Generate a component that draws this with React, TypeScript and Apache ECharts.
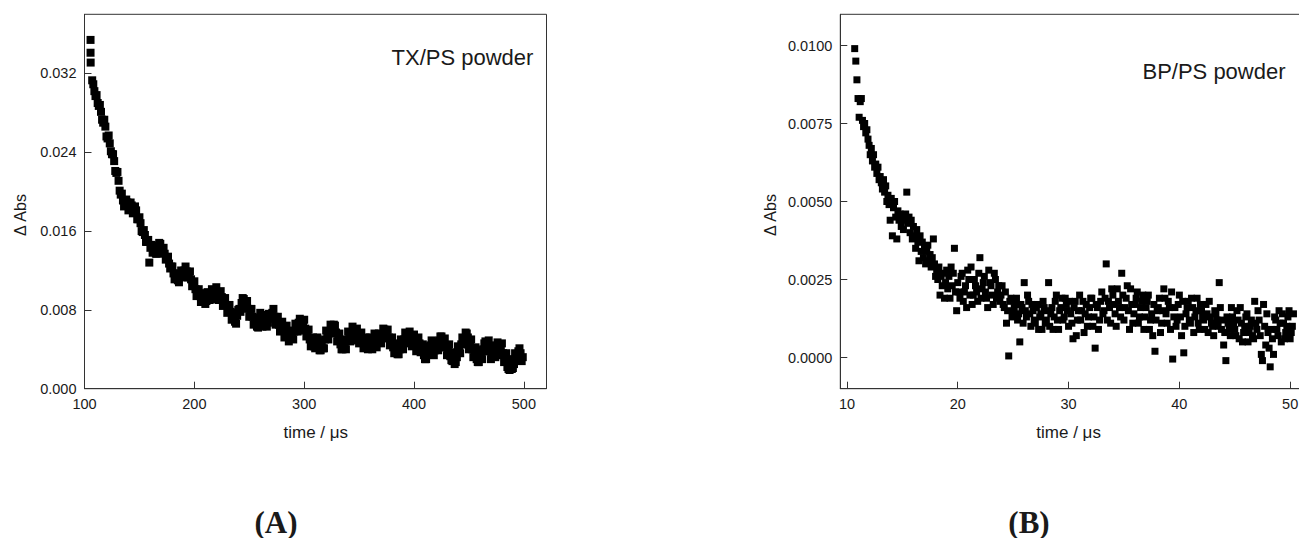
import React, { useEffect, useRef } from "react";
import * as echarts from "echarts";

// TX/PS powder: [time / µs, ΔAbs]
const txPoints: [number, number][] = [
  [105.5, 0.0354], [105.5, 0.0341], [105.6, 0.0331],
  [107, 0.0313], [108, 0.0309], [109, 0.0302], [110, 0.0297], [111, 0.0298], [113, 0.0287], [115, 0.0281],
  [117, 0.027], [119, 0.0266], [121, 0.0254], [123, 0.0249], [125, 0.0238], [127, 0.0231], [129, 0.0219],
  [131, 0.0211], [133, 0.0197], [135, 0.0191], [137, 0.0186], [139, 0.0189], [141, 0.0183], [143, 0.0186],
  [145, 0.0179], [147, 0.0181], [149, 0.0172], [151, 0.0168], [153, 0.0159], [155, 0.0156], [157, 0.0149],
  [159, 0.0128], [161, 0.0146], [163, 0.014], [165, 0.0137], [167, 0.0144], [169, 0.0147], [171, 0.0139],
  [173, 0.0137], [175, 0.0133], [177, 0.0127], [179, 0.0124], [181, 0.0117], [183, 0.0113], [185, 0.011],
  [187, 0.0114], [189, 0.0116], [191, 0.012], [193, 0.0119], [195, 0.0116], [197, 0.0111], [199, 0.0107],
  [201, 0.0101], [203, 0.0097], [205, 0.0094], [207, 0.0092], [209, 0.0091], [211, 0.0089], [213, 0.0095],
  [215, 0.0097], [217, 0.0094], [219, 0.01], [221, 0.0098], [223, 0.0095], [225, 0.0093], [227, 0.0087],
  [229, 0.0085], [231, 0.008], [233, 0.0078], [235, 0.0073], [237, 0.0068], [239, 0.0074], [241, 0.0081],
  [243, 0.0087], [245, 0.0091], [247, 0.0085], [249, 0.0081], [251, 0.0076], [253, 0.0073], [255, 0.0066],
  [257, 0.0063], [259, 0.007], [261, 0.0072], [263, 0.0065], [265, 0.0071], [267, 0.0067], [269, 0.0074],
  [271, 0.0077], [273, 0.0073], [275, 0.0068], [277, 0.0065], [279, 0.0062], [281, 0.0059], [283, 0.0057],
  [285, 0.0055], [287, 0.0052], [289, 0.0051], [291, 0.0058], [293, 0.0063], [295, 0.0067], [297, 0.0064],
  [299, 0.0068], [301, 0.0061], [303, 0.0057], [305, 0.005], [307, 0.0045], [309, 0.0043], [311, 0.0047],
  [313, 0.0042], [315, 0.0039], [317, 0.0041], [319, 0.005], [321, 0.0055], [323, 0.0058], [325, 0.0062],
  [327, 0.0065], [329, 0.0057], [331, 0.0052], [333, 0.0045], [335, 0.004], [337, 0.0043], [339, 0.0049],
  [341, 0.0055], [343, 0.0057], [345, 0.0059], [347, 0.0054], [349, 0.0056], [351, 0.0052], [353, 0.0048],
  [355, 0.0046], [357, 0.0043], [359, 0.0042], [361, 0.0045], [363, 0.0048], [365, 0.005], [367, 0.0047],
  [369, 0.0052], [371, 0.0055], [373, 0.006], [375, 0.0058], [377, 0.0052], [379, 0.0047], [381, 0.0042],
  [383, 0.0038], [385, 0.0035], [387, 0.004], [389, 0.0045], [391, 0.005], [393, 0.0053], [395, 0.0055],
  [397, 0.0054], [399, 0.005], [401, 0.0047], [403, 0.0043], [405, 0.0046], [407, 0.004], [409, 0.0034],
  [411, 0.003], [413, 0.0037], [415, 0.0044], [417, 0.0042], [419, 0.0039], [421, 0.0045], [423, 0.0049],
  [425, 0.0053], [427, 0.0047], [429, 0.0042], [431, 0.0038], [433, 0.0033], [435, 0.0028], [437, 0.0025],
  [439, 0.0032], [441, 0.004], [443, 0.0045], [445, 0.005], [447, 0.0057], [449, 0.0052], [451, 0.0045],
  [453, 0.004], [455, 0.0036], [457, 0.003], [459, 0.0027], [461, 0.0033], [463, 0.004], [465, 0.0048],
  [467, 0.0044], [469, 0.0038], [471, 0.0034], [473, 0.0037], [475, 0.004], [477, 0.0043], [479, 0.0041],
  [481, 0.0036], [483, 0.003], [485, 0.0022], [487, 0.0019], [489, 0.002], [491, 0.0025], [493, 0.0033],
  [495, 0.0038], [497, 0.0036], [499, 0.0032],
];

// TX/PS powder, interleaved samples: [time / µs, ΔAbs]
const txPointsEven: [number, number][] = [
  [112, 0.029], [114, 0.0288], [116, 0.0273], [118, 0.0273], [120, 0.0256], [122, 0.0257], [124, 0.0241],
  [126, 0.0238], [128, 0.0221], [130, 0.022], [132, 0.0201], [134, 0.0198], [136, 0.0185], [138, 0.0192],
  [140, 0.0181], [142, 0.0189], [144, 0.0178], [146, 0.0185], [148, 0.0172], [150, 0.0174], [152, 0.016],
  [154, 0.0161], [156, 0.0149], [158, 0.0151], [160, 0.0143], [162, 0.0138], [164, 0.0145], [166, 0.0137],
  [168, 0.0148], [170, 0.0138], [172, 0.0143], [174, 0.0131], [176, 0.0134], [178, 0.0122], [180, 0.0124],
  [182, 0.0111], [184, 0.0117], [186, 0.0108], [188, 0.012], [190, 0.0113], [192, 0.0124], [194, 0.0113],
  [196, 0.0119], [198, 0.0104], [200, 0.0109], [202, 0.0094], [204, 0.0101], [206, 0.0088], [208, 0.0097],
  [210, 0.0086], [212, 0.0098], [214, 0.009], [216, 0.0101], [218, 0.0091], [220, 0.0103], [222, 0.009],
  [224, 0.0099], [226, 0.0084], [228, 0.0092], [230, 0.0077], [232, 0.0085], [234, 0.007], [236, 0.0077],
  [238, 0.0066], [240, 0.008], [242, 0.0078], [244, 0.0092], [246, 0.0082], [248, 0.0089], [250, 0.0073],
  [252, 0.0081], [254, 0.0065], [256, 0.0072], [258, 0.0062], [260, 0.0077], [262, 0.0063], [264, 0.0075],
  [266, 0.0063], [268, 0.0076], [270, 0.0071], [272, 0.0081], [274, 0.0065], [276, 0.0073], [278, 0.0058],
  [280, 0.0068], [282, 0.0052], [284, 0.0064], [286, 0.0048], [288, 0.0059], [290, 0.005], [292, 0.0066],
  [294, 0.0058], [296, 0.0071], [298, 0.0059], [300, 0.007], [302, 0.0053], [304, 0.006], [306, 0.0043],
  [308, 0.0052], [310, 0.0041], [312, 0.0052], [314, 0.0039], [316, 0.0048], [318, 0.0041], [320, 0.0059],
  [322, 0.005], [324, 0.0065], [326, 0.0056], [328, 0.0064], [330, 0.0048], [332, 0.0056], [334, 0.004],
  [336, 0.005], [338, 0.004], [340, 0.0058], [342, 0.0048], [344, 0.0063], [346, 0.0049], [348, 0.0061],
  [350, 0.0046], [352, 0.0057], [354, 0.0041], [356, 0.0052], [358, 0.004], [360, 0.0052], [362, 0.004],
  [364, 0.0056], [366, 0.0042], [368, 0.0056], [370, 0.0046], [372, 0.0061], [374, 0.0051], [376, 0.006],
  [378, 0.0044], [380, 0.0052], [382, 0.0036], [384, 0.0046], [386, 0.0035], [388, 0.005], [390, 0.004],
  [392, 0.0057], [394, 0.0046], [396, 0.0058], [398, 0.0043], [400, 0.0055], [402, 0.0038], [404, 0.0052],
  [406, 0.0037], [408, 0.0045], [410, 0.003], [412, 0.0043], [414, 0.0035], [416, 0.0049], [418, 0.0034],
  [420, 0.0048], [422, 0.0039], [424, 0.0053], [426, 0.0042], [428, 0.0051], [430, 0.0034], [432, 0.0045],
  [434, 0.0029], [436, 0.0037], [438, 0.0027], [440, 0.0043], [442, 0.0036], [444, 0.0052], [446, 0.0045],
  [448, 0.0056], [450, 0.004], [452, 0.005], [454, 0.0032], [456, 0.0042], [458, 0.0027], [460, 0.0039],
  [462, 0.003], [464, 0.0046], [466, 0.0038], [468, 0.0049], [470, 0.003], [472, 0.0044], [474, 0.0032],
  [476, 0.0047], [478, 0.0034], [480, 0.0046], [482, 0.0027], [484, 0.0036], [486, 0.002], [488, 0.003],
  [490, 0.0021], [492, 0.0036], [494, 0.003], [496, 0.0041], [498, 0.0028],
];

// BP/PS powder: [time / µs, ΔAbs]
const bpPoints: [number, number][] = [
  [10.7, 0.0099], [10.8, 0.0095], [10.9, 0.0089], [11.0, 0.0083], [11.1, 0.0077], [11.2, 0.0082],
  [11.3, 0.0083], [11.4, 0.0076], [11.5, 0.0074], [11.6, 0.0075], [11.7, 0.0072], [11.8, 0.0073],
  [11.9, 0.007], [12.0, 0.0068], [12.1, 0.0065], [12.2, 0.0067], [12.3, 0.0063], [12.4, 0.0065],
  [12.5, 0.0061], [12.6, 0.0062], [12.7, 0.0059], [12.8, 0.0061], [12.9, 0.0057], [13.0, 0.0058],
  [13.1, 0.0056], [13.2, 0.0054], [13.3, 0.0057], [13.4, 0.0053], [13.5, 0.0055], [13.6, 0.005],
  [13.7, 0.0052], [13.8, 0.0049], [13.9, 0.0044], [14.0, 0.0051], [14.1, 0.0039], [14.2, 0.0048],
  [14.3, 0.005], [14.4, 0.0045], [14.5, 0.0038], [14.6, 0.0047], [14.7, 0.0044], [14.8, 0.0046],
  [14.9, 0.0042], [15.0, 0.0045], [15.1, 0.0041], [15.2, 0.0044], [15.3, 0.0046], [15.4, 0.0053],
  [15.5, 0.0043], [15.6, 0.0045], [15.7, 0.004], [15.8, 0.0044], [15.9, 0.0038], [16.0, 0.0042],
  [16.1, 0.0039], [16.2, 0.0035], [16.3, 0.0041], [16.4, 0.0037], [16.5, 0.0031], [16.6, 0.0039],
  [16.7, 0.0034], [16.8, 0.0037], [16.9, 0.0032], [17.0, 0.0035], [17.1, 0.003], [17.2, 0.0034],
  [17.3, 0.0036], [17.4, 0.0031], [17.5, 0.0033], [17.6, 0.0029], [17.7, 0.0032], [17.8, 0.0038],
  [17.9, 0.003], [18.0, 0.0026], [18.1, 0.0028], [18.2, 0.0025], [18.3, 0.0029], [18.4, 0.002],
  [18.5, 0.0026], [18.6, 0.0023], [18.7, 0.0027], [18.8, 0.0019], [18.9, 0.0024], [19.0, 0.0028],
  [19.1, 0.0022], [19.2, 0.0026], [19.3, 0.0019], [19.4, 0.0029], [19.5, 0.0023], [19.6, 0.0027],
  [19.7, 0.0035], [19.8, 0.0021], [19.9, 0.0015],
  [20.0, 0.0024], [20.2, 0.0019], [20.4, 0.0027], [20.6, 0.0021], [20.8, 0.0016], [21.0, 0.0025],
  [21.2, 0.0029], [21.4, 0.002], [21.6, 0.0023], [21.8, 0.0018], [22.0, 0.0032], [22.2, 0.0022],
  [22.4, 0.0026], [22.6, 0.0019], [22.8, 0.0028], [23.0, 0.0023], [23.2, 0.0017], [23.4, 0.0025],
  [23.6, 0.0021], [23.8, 0.0018], [24.0, 0.0023], [24.2, 0.0016], [24.4, 0.0011], [24.6, 0.00005],
  [24.8, 0.0019], [25.0, 0.0014], [25.2, 0.0017], [25.4, 0.0012], [25.6, 0.0005], [25.8, 0.0016],
  [26.0, 0.0024], [26.2, 0.0013], [26.4, 0.0018], [26.6, 0.001], [26.8, 0.0015], [27.0, 0.0011],
  [27.2, 0.0017], [27.4, 0.0013], [27.6, 0.0009], [27.8, 0.0016], [28.0, 0.0012], [28.2, 0.0024],
  [28.4, 0.0014], [28.6, 0.0009], [28.8, 0.0018], [29.0, 0.0012], [29.2, 0.0015], [29.4, 0.0019],
  [29.6, 0.0013], [29.8, 0.0017], [30.0, 0.001], [30.2, 0.0014], [30.4, 0.0006], [30.6, 0.0018],
  [30.8, 0.0012], [31.0, 0.002], [31.2, 0.0015], [31.4, 0.0008], [31.6, 0.0017], [31.8, 0.0013],
  [32.0, 0.0019], [32.2, 0.001], [32.4, 0.0003], [32.6, 0.0016], [32.8, 0.0012], [33.0, 0.0021],
  [33.2, 0.0015], [33.4, 0.003], [33.6, 0.0018], [33.8, 0.0011], [34.0, 0.002], [34.2, 0.0014],
  [34.4, 0.0022], [34.6, 0.0016], [34.8, 0.0027], [35.0, 0.0012], [35.2, 0.0019], [35.4, 0.0015],
  [35.6, 0.0022], [35.8, 0.0011], [36.0, 0.0017], [36.2, 0.0021], [36.4, 0.0013], [36.6, 0.0018],
  [36.8, 0.0009], [37.0, 0.0016], [37.2, 0.002], [37.4, 0.0012], [37.6, 0.0007], [37.8, 0.0002],
  [38.0, 0.0015], [38.2, 0.0019], [38.4, 0.0011], [38.6, 0.0022], [38.8, 0.0014], [39.0, 0.0018],
  [39.2, 0.0009], [39.4, -0.00005], [39.6, 0.0016], [39.8, 0.0012], [40.0, 0.002], [40.2, 0.0007],
  [40.4, 0.00015], [40.6, 0.0014], [40.8, 0.0018], [41.0, 0.0011], [41.2, 0.0016], [41.4, 0.0013],
  [41.6, 0.0019], [41.8, 0.0009], [42.0, 0.0015], [42.2, 0.0012], [42.4, 0.0017], [42.6, 0.0008],
  [42.8, 0.0013], [43.0, 0.001], [43.2, 0.0015], [43.4, 0.0012], [43.6, 0.0024], [43.8, 0.0009],
  [44.0, 0.0004], [44.2, -0.0001], [44.4, 0.0011], [44.6, 0.0007], [44.8, 0.0013], [45.0, 0.0009],
  [45.2, 0.0015], [45.4, 0.0006], [45.6, 0.0011], [45.8, 0.0008], [46.0, 0.0013], [46.2, 0.0005],
  [46.4, 0.001], [46.6, 0.0007], [46.8, 0.0018], [47.0, 0.0009], [47.2, 0.0012], [47.4, 0.0001],
  [47.6, 0.0017], [47.8, 0.0004], [48.0, 0.0008], [48.2, -0.0003], [48.4, 0.0006], [48.6, 0.0013],
  [48.8, 0.0009], [49.0, 0.0015], [49.2, 0.0005], [49.4, 0.0011], [49.6, 0.0008], [49.8, 0.0013],
  [50.0, 0.0006], [50.2, 0.001], [50.3, 0.0014],
];

// BP/PS powder, interleaved samples: [time / µs, ΔAbs]
const bpPointsOdd: [number, number][] = [
  [20.1, 0.0021], [20.3, 0.0026], [20.5, 0.0018], [20.7, 0.0023], [20.9, 0.0028], [21.1, 0.002],
  [21.3, 0.0017], [21.5, 0.0025], [21.7, 0.0021], [21.9, 0.0027], [22.1, 0.0019], [22.3, 0.0024],
  [22.5, 0.0021], [22.7, 0.0016], [22.9, 0.0024], [23.1, 0.002], [23.3, 0.0027], [23.5, 0.0019],
  [23.7, 0.0023], [23.9, 0.002], [24.1, 0.0017], [24.3, 0.0021], [24.5, 0.0015], [24.7, 0.0018],
  [24.9, 0.0013], [25.1, 0.0016], [25.3, 0.0019], [25.5, 0.0014], [25.7, 0.0017], [25.9, 0.0011],
  [26.1, 0.0015], [26.3, 0.002], [26.5, 0.0014], [26.7, 0.0017], [26.9, 0.0012], [27.1, 0.0016],
  [27.3, 0.0009], [27.5, 0.0014], [27.7, 0.0018], [27.9, 0.0011], [28.1, 0.0015], [28.3, 0.001],
  [28.5, 0.0016], [28.7, 0.0013], [28.9, 0.002], [29.1, 0.0009], [29.3, 0.0016], [29.5, 0.0012],
  [29.7, 0.0019], [29.9, 0.0015], [30.1, 0.0018], [30.3, 0.0011], [30.5, 0.0016], [30.7, 0.0007],
  [30.9, 0.0015], [31.1, 0.0012], [31.3, 0.0018], [31.5, 0.0014], [31.7, 0.001], [31.9, 0.0016],
  [32.1, 0.0019], [32.3, 0.0013], [32.5, 0.0017], [32.7, 0.0009], [32.9, 0.0018], [33.1, 0.0014],
  [33.3, 0.0019], [33.5, 0.0012], [33.7, 0.0016], [33.9, 0.0022], [34.1, 0.0017], [34.3, 0.001],
  [34.5, 0.0018], [34.7, 0.0013], [34.9, 0.002], [35.1, 0.0016], [35.3, 0.0023], [35.5, 0.0009],
  [35.7, 0.0017], [35.9, 0.0014], [36.1, 0.0019], [36.3, 0.0011], [36.5, 0.0016], [36.7, 0.002],
  [36.9, 0.0013], [37.1, 0.0018], [37.3, 0.0009], [37.5, 0.0014], [37.7, 0.0017], [37.9, 0.0012],
  [38.1, 0.0016], [38.3, 0.0008], [38.5, 0.0015], [38.7, 0.0019], [38.9, 0.0011], [39.1, 0.0016],
  [39.3, 0.0021], [39.5, 0.0013], [39.7, 0.001], [39.9, 0.0017], [40.1, 0.0013], [40.3, 0.0018],
  [40.5, 0.001], [40.7, 0.0016], [40.9, 0.0012], [41.1, 0.0019], [41.3, 0.0008], [41.5, 0.0015],
  [41.7, 0.0011], [41.9, 0.0017], [42.1, 0.0013], [42.3, 0.0009], [42.5, 0.0014], [42.7, 0.0018],
  [42.9, 0.0011], [43.1, 0.0007], [43.3, 0.0014], [43.5, 0.001], [43.7, 0.0016], [43.9, 0.0012],
  [44.1, 0.0008], [44.3, 0.0013], [44.5, 0.0009], [44.7, 0.0016], [44.9, 0.0011], [45.1, 0.0007],
  [45.3, 0.0012], [45.5, 0.0016], [45.7, 0.0005], [45.9, 0.001], [46.1, 0.0014], [46.3, 0.0008],
  [46.5, 0.0012], [46.7, 0.0006], [46.9, 0.0011], [47.1, 0.0015], [47.3, 0.0007], [47.5, -0.0001],
  [47.7, 0.001], [47.9, 0.0014], [48.1, 0.0003], [48.3, 0.0009], [48.5, 0.0001], [48.7, 0.0012],
  [48.9, 0.0007], [49.1, 0.0011], [49.3, 0.0014], [49.5, 0.0006], [49.7, 0.001], [49.9, 0.0015],
  [50.1, 0.0008],
];

const txTimeTicks = [100, 200, 300, 400, 500];
const txAbsTicks = [0, 0.008, 0.016, 0.024, 0.032];
const bpTimeTicks = [10, 20, 30, 40, 50];
const bpAbsTicks = [0, 0.0025, 0.005, 0.0075, 0.01];

const SANS = '"Liberation Sans", Arial, Helvetica, sans-serif';
const SERIF = '"Liberation Serif", "Times New Roman", serif';

export default function App() {
  const ref = useRef<HTMLDivElement>(null);

  useEffect(() => {
    if (!ref.current) return;
    const chart = echarts.init(ref.current, null, { renderer: "svg" });
    const axisColor = "#333";
    const labelColor = "#1a1a1a";
    const labelBase = { color: labelColor, fontFamily: SANS, fontSize: 14.5 };

    const xAxis = (gridIndex: number, min: number, max: number, ticks: number[]) => ({
      type: "value",
      gridIndex,
      min,
      max,
      axisLine: { show: true, onZero: false, lineStyle: { color: axisColor, width: 1 } },
      axisTick: { show: true, inside: true, length: 7, customValues: ticks, lineStyle: { color: axisColor, width: 1 } },
      axisLabel: { ...labelBase, margin: 8, customValues: ticks, formatter: (v: number) => String(v) },
      splitLine: { show: false },
    });
    const yAxis = (gridIndex: number, min: number, max: number, ticks: number[], digits: number) => ({
      type: "value",
      gridIndex,
      min,
      max,
      axisLine: { show: true, onZero: false, lineStyle: { color: axisColor, width: 1 } },
      axisTick: { show: true, inside: true, length: 7, customValues: ticks, lineStyle: { color: axisColor, width: 1 } },
      axisLabel: { ...labelBase, margin: 8, customValues: ticks, formatter: (v: number) => v.toFixed(digits) },
      splitLine: { show: false },
    });

    const text = (x: number, y: number, t: string, font: string, extra: any = {}) => ({
      type: "text",
      x,
      y,
      ...extra,
      style: {
        text: t,
        font,
        fill: labelColor,
        align: "center",
        verticalAlign: "middle",
        textAlign: "center",
        textVerticalAlign: "middle",
      },
    });

    const scatter = (idx: number, data: [number, number][], size: number) => ({
      type: "scatter",
      xAxisIndex: idx,
      yAxisIndex: idx,
      data,
      symbol: "rect",
      symbolSize: size,
      itemStyle: { color: "#000", opacity: 1 },
    });

    chart.setOption({
      animation: false,
      backgroundColor: "#fff",
      grid: [
        { left: 84.5, top: 14.3, width: 462, height: 374.4, show: true, borderColor: axisColor, borderWidth: 1, containLabel: false },
        { left: 840.3, top: 14.3, width: 472, height: 374.4, show: true, borderColor: axisColor, borderWidth: 1, containLabel: false },
      ],
      xAxis: [xAxis(0, 100, 520.6, txTimeTicks), xAxis(1, 9.4, 52, bpTimeTicks)],
      yAxis: [yAxis(0, 0, 0.038, txAbsTicks, 3), yAxis(1, -0.001, 0.011, bpAbsTicks, 4)],
      series: [
        scatter(0, txPoints, 8),
        scatter(0, txPointsEven, 8),
        scatter(1, bpPoints, 7),
        scatter(1, bpPointsOdd, 7),
      ],
      graphic: [
        text(315.8, 432, "time / μs", `17px ${SANS}`),
        text(1068.6, 432, "time / μs", `17px ${SANS}`),
        text(20, 215, "Δ Abs", `16px ${SANS}`, { rotation: Math.PI / 2 }),
        text(770, 215, "Δ Abs", `16px ${SANS}`, { rotation: Math.PI / 2 }),
        text(462.5, 57, "TX/PS powder", `22px ${SANS}`),
        text(1214, 71, "BP/PS powder", `22px ${SANS}`),
        text(276, 522, "(A)", `bold 31px ${SERIF}`),
        text(1029, 522, "(B)", `bold 31px ${SERIF}`),
      ],
    });

    return () => chart.dispose();
  }, []);

  return (
    <div style={{ position: "fixed", left: 0, top: 0, width: 1299, height: 538, overflow: "hidden", background: "#fff" }}>
      <div ref={ref} style={{ width: 1330, height: 538 }} />
    </div>
  );
}
